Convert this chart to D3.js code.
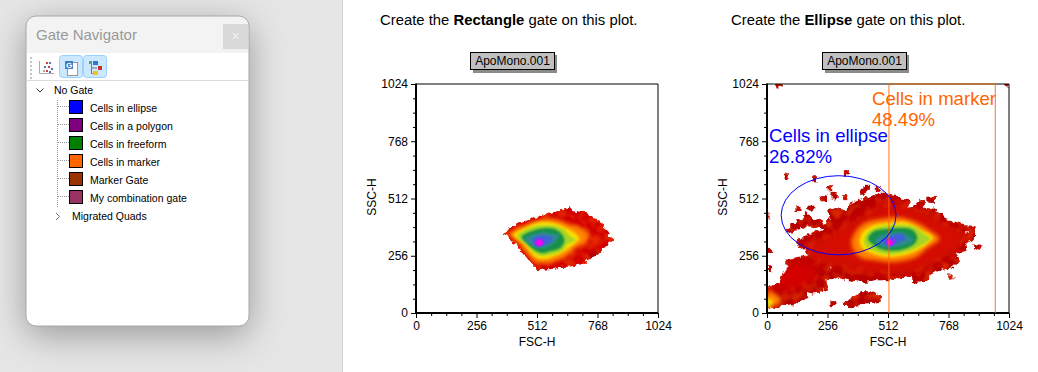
<!DOCTYPE html>
<html><head><meta charset="utf-8">
<script src="https://cdn.jsdelivr.net/npm/d3@7"></script>
<style>
html,body{margin:0;padding:0;background:#fff;overflow:hidden}
svg{display:block}
text{font-family:"Liberation Sans",Arial,sans-serif}
.axis path,.axis line{stroke:#000}
.axis text{font-family:"Liberation Sans",Arial,sans-serif;font-size:12px;fill:#000}
</style></head><body>
<svg id="c" width="1038" height="372"></svg>
<script>
// ---------- data (FSC-H, SSC-H channel values) ----------
const axisTicks = [0,256,512,768,1024];
const minorTicks = d3.range(0,1025,64).filter(v=>v%256!==0);
const xLabel = "FSC-H", yLabel = "SSC-H", fileName = "ApoMono.001";
const gateNames = ["Cells in ellipse","Cells in a polygon","Cells in freeform","Cells in marker","Marker Gate","My combination gate"];
const gateColors = ["#0000ff","#800080","#008000","#ff6600","#993300","#993366"];
const ellipseGate = {cx:303, cy:437, rx:243, ry:177};
const markerGate = [516,966];
const ellipseStat = ["Cells in ellipse","26.82%"];
const markerStat = ["Cells in marker","48.49%"];

// density levels, left plot
const leftOuter = [[368,358],[390,377],[425,396],[474,414],[517,429],[552,441],[566,454],[616,462],[644,466],[651,480],[655,462],[687,454],[722,451],[736,429],[764,422],[793,399],[802,370],[814,350],[839,329],[821,313],[800,295],[785,273],[750,247],[729,239],[708,221],[665,209],[609,206],[588,198],[545,194],[517,191],[489,221],[467,250],[432,295],[397,332]];
const leftDark = [[715,258],[757,280],[793,283],[771,258],[736,239]];
const leftSpot = [[736,332],[764,347],[785,329],[757,313]];
const leftOrange = [[390,355],[432,380],[489,405],[545,422],[602,417],[644,399],[701,380],[732,347],[718,314],[668,285],[640,255],[595,232],[531,220],[500,232],[470,262],[435,310],[405,337]];
const leftYellow = [[412,350],[460,380],[517,405],[573,405],[623,387],[672,358],[692,332],[668,307],[630,277],[588,255],[538,240],[508,247],[478,280],[450,317]];
const leftLime = [[428,343],[465,373],[517,390],[580,390],[625,373],[653,342],[676,328],[640,307],[618,278],[573,262],[531,255],[500,270],[470,303]];
const leftGreen = [[447,340],[478,362],[531,378],[582,377],[612,358],[628,325],[612,292],[568,276],[531,268],[500,284],[468,313]];
const leftTeal = [[458,332],[494,350],[538,362],[568,354],[606,350],[584,315],[554,294],[508,291],[476,310]];
const leftBlue = [[490,328],[522,346],[561,344],[578,328],[547,306],[508,303]];
const leftPurple = [[500,317],[517,335],[540,327],[540,305],[512,296]];
const leftMagenta = [[508,314],[524,328],[537,314],[524,300]];

// density levels, right plot
const rightOuter = [[0,17],[0,124],[25,124],[53,131],[67,169],[88,206],[95,243],[138,251],[173,261],[166,280],[131,303],[117,315],[124,329],[166,344],[187,355],[223,370],[244,377],[216,385],[180,392],[145,377],[124,370],[88,355],[81,370],[103,392],[131,414],[152,429],[166,447],[180,437],[202,414],[223,422],[237,395],[251,399],[265,422],[258,466],[293,474],[336,452],[350,489],[399,511],[442,523],[477,533],[515,533],[541,529],[569,511],[604,504],[597,474],[619,474],[647,511],[668,504],[668,469],[710,466],[746,437],[767,414],[802,407],[838,392],[877,389],[887,347],[869,325],[838,310],[845,273],[802,265],[816,228],[788,213],[788,206],[739,191],[682,169],[682,146],[633,139],[609,131],[611,161],[562,161],[518,146],[456,146],[414,139],[343,146],[286,161],[251,146],[258,116],[237,94],[194,87],[173,94],[166,64],[131,42],[74,35],[25,20]];
const rightIsland = [[322,49],[371,72],[399,94],[456,91],[487,72],[477,49],[414,42],[357,27],[322,27]];
const rightSpecks = [[81,611],[201,600],[336,627],[261,560],[237,511],[284,519],[284,535],[329,516],[414,551],[425,562],[405,540],[467,553],[131,463],[185,469],[279,42],[88,228],[7,280],[0,429],[11,198],[50,1020],[1014,1020],[689,504],[700,504],[883,295],[893,295],[778,161]];
const rightHoles = [[842,358],[270,200]];
const rightBright = [[166,295],[293,369],[392,429],[491,488],[646,466],[759,399],[843,354],[815,295],[730,235],[632,183],[477,176],[336,205],[195,235]];
const rightLowBright = [[25,116],[96,220],[195,213],[209,161],[96,101]];
const rightOrange = [[357,310],[378,369],[420,406],[491,421],[547,429],[632,406],[688,369],[730,332],[674,287],[632,250],[547,228],[462,235],[392,250]];
const rightYellow = [[392,317],[406,362],[448,391],[505,402],[589,406],[646,376],[702,339],[660,295],[603,265],[519,250],[448,265],[406,287]];
const rightLime = [[410,324],[432,365],[477,387],[547,394],[620,387],[662,356],[690,332],[648,300],[589,274],[519,262],[453,277],[416,302]];
const rightGreen = [[428,332],[452,365],[505,376],[561,380],[614,372],[636,339],[622,307],[570,283],[505,280],[458,299]];
const rightTeal = [[455,324],[488,350],[547,361],[592,351],[620,324],[585,306],[519,291],[474,303]];
const rightBlue = [[486,324],[517,342],[568,355],[586,332],[549,313],[510,298]];
const rightPurple = [[498,317],[517,335],[542,326],[528,299]];
const rightMagenta = [[509,317],[522,327],[533,310],[519,302]];
const cornerOrange = [[0,94],[32,86],[61,57],[25,27],[0,19]];
const cornerYellow = [[0,64],[25,54],[11,30],[0,24]];
const cornerLime = [[0,49],[11,42],[0,30]];

const heat = {dark:"#b80000",red:"#d40400",bright:"#d40a00",spot:"#ea3000",orange:"#ff8400",yellow:"#f8e000",lime:"#a6d428",green:"#159048",teal:"#2f8a90",blue:"#3f60d8",purple:"#8a30f0",magenta:"#f800f0"};
// --------------------------------------------------------

const svg = d3.select("#c");
const defs = svg.append("defs");
function addBlur(id,s){
  defs.append("filter").attr("id",id).attr("x","-60%").attr("y","-60%").attr("width","220%").attr("height","220%")
    .append("feGaussianBlur").attr("stdDeviation",s);
}
addBlur("soft",0.55);
[[ "b40",4],["b25",2.2],["b16",1.4],["b12",1],["b10",.8],["b08",.7],["b06",.5]].forEach(d=>addBlur(d[0],d[1]));
const sh = defs.append("filter").attr("id","winShadow").attr("x","-40%").attr("y","-30%").attr("width","180%").attr("height","170%");
sh.append("feDropShadow").attr("dx",0).attr("dy",9).attr("stdDeviation",18).attr("flood-color","#000").attr("flood-opacity",0.34);
// jagged population edge and mottled red body of the density map
const rough = defs.append("filter").attr("id","rough").attr("x","-5%").attr("y","-5%").attr("width","110%").attr("height","110%");
rough.append("feTurbulence").attr("type","fractalNoise").attr("baseFrequency",0.2).attr("numOctaves",2).attr("seed",4).attr("result","n");
rough.append("feDisplacementMap").attr("in","SourceGraphic").attr("in2","n").attr("scale",7).attr("xChannelSelector","R").attr("yChannelSelector","G").attr("result","d");
rough.append("feTurbulence").attr("type","fractalNoise").attr("baseFrequency",0.12).attr("numOctaves",1).attr("seed",9);
rough.append("feColorMatrix").attr("type","matrix").attr("values","0 0 0 0 .84  0 0 0 0 .03  0 0 0 0 0  2.2 0 0 0 -1.0").attr("result","m");
rough.append("feComposite").attr("in","m").attr("in2","d").attr("operator","in").attr("result","mm");
const mg = rough.append("feMerge"); mg.append("feMergeNode").attr("in","d"); mg.append("feMergeNode").attr("in","mm");
defs.append("filter").attr("id","px").append("feGaussianBlur").attr("stdDeviation",0.5);

// left pane
svg.append("rect").attr("x",0).attr("y",0).attr("width",342).attr("height",372).attr("fill","#e6e6e6");
svg.append("line").attr("x1",342.5).attr("x2",342.5).attr("y1",0).attr("y2",372).attr("stroke","#d2d2d2");

// gate navigator window
const win = svg.append("g");
win.append("rect").attr("x",26).attr("y",16).attr("width",223).attr("height",310).attr("rx",10)
  .attr("fill","#fff").attr("filter","url(#winShadow)");
win.append("path").attr("d","M26 53V26a10 10 0 0 1 10-10H239a10 10 0 0 1 10 10V53Z").attr("fill","#f3f3f3");
win.append("rect").attr("x",26).attr("y",16).attr("width",223).attr("height",310).attr("rx",10)
  .attr("fill","none").attr("stroke","#a8a8a8");
win.append("text").attr("x",36).attr("y",40).attr("font-size",15).attr("fill","#9a9a9a").text("Gate Navigator");
win.append("rect").attr("x",223).attr("y",24).attr("width",25).attr("height",25).attr("fill","#d9d9d9");
win.append("text").attr("x",235.5).attr("y",41).attr("text-anchor","middle").attr("font-size",14).attr("fill","#f2f2f2").text("×");
win.append("line").attr("x1",26).attr("x2",249).attr("y1",80.5).attr("y2",80.5).attr("stroke","#dcdcdc");
d3.range(57,78,4).forEach(y=>win.append("rect").attr("x",30).attr("y",y).attr("width",2).attr("height",2).attr("fill","#c4c4c4"));
[[59,55],[83,55]].forEach(([x,y])=>win.append("rect").attr("x",x+.5).attr("y",y+.5).attr("width",23).attr("height",22).attr("rx",3).attr("fill","#cce8ff").attr("stroke","#99d1ff"));
// toolbar icons
win.append("path").attr("d","M39.5 61V73.5H54").attr("fill","none").attr("stroke","#aaa");
[[46,62,"#d04040"],[49,62,"#5070c0"],[44,66,"#5070c0"],[48,66,"#d04040"],[51,68,"#5070c0"],[46,70,"#d04040"],[49,71,"#5070c0"],[43,70,"#aaa"]].forEach(d=>win.append("rect").attr("x",d[0]).attr("y",d[1]).attr("width",2).attr("height",2).attr("fill",d[2]));
win.append("rect").attr("x",67.5).attr("y",62.5).attr("width",10).attr("height",13).attr("fill","#fff").attr("stroke","#999");
win.append("rect").attr("x",65).attr("y",61).attr("width",8).attr("height",8).attr("fill","#3f7fc8");
win.append("text").attr("x",69).attr("y",68).attr("text-anchor","middle").attr("font-size",8).attr("font-weight","bold").attr("fill","#fff").text("G");
win.append("path").attr("d","M91.5 64V73.5H95M91.5 68H97").attr("fill","none").attr("stroke","#777");
win.append("rect").attr("x",89).attr("y",61).attr("width",3).attr("height",3).attr("fill","#5a9a8a");
win.append("rect").attr("x",93).attr("y",61).attr("width",5).attr("height",4).attr("fill","#2f78c8");
win.append("rect").attr("x",98).attr("y",66).attr("width",4).attr("height",4).attr("fill","#d02c2c");
win.append("rect").attr("x",93).attr("y",71).attr("width",5).attr("height",4).attr("fill","#f5c020");
// tree
const row = i => 108 + i*18;
win.append("text").attr("x",54).attr("y",94).attr("font-size",10.5).attr("fill","#000").text("No Gate");
win.append("path").attr("d","M36.5 88.5L40 92L43.5 88.5").attr("fill","none").attr("stroke","#333");
win.append("line").attr("x1",57.5).attr("x2",57.5).attr("y1",100).attr("y2",207).attr("stroke","#999").attr("stroke-dasharray","1 1");
const rows = win.selectAll("g.r").data(gateNames).join("g").attr("class","r");
rows.append("line").attr("x1",58).attr("x2",69).attr("y1",(d,i)=>row(i)-1.5).attr("y2",(d,i)=>row(i)-1.5).attr("stroke","#999").attr("stroke-dasharray","1 1");
rows.append("rect").attr("x",69.5).attr("y",(d,i)=>row(i)-7.5).attr("width",13).attr("height",13).attr("fill",(d,i)=>gateColors[i]).attr("stroke","#000");
rows.append("text").attr("x",90).attr("y",(d,i)=>row(i)+3.5).attr("font-size",10.5).attr("fill","#000").text(d=>d);
win.append("path").attr("d","M56 213L59.5 216.5L56 220").attr("fill","none").attr("stroke","#777");
win.append("text").attr("x",72).attr("y",219.5).attr("font-size",10.5).attr("fill","#000").text("Migrated Quads");

// plots
const plotH = [84,313];
function drawPlot(id,x0,x1,boldWord,titleX,boxX,levels,outerClip,draw){
  const x = d3.scaleLinear().domain([0,1024]).range([x0,x1]);
  const y = d3.scaleLinear().domain([0,1024]).range([plotH[1],plotH[0]]);
  const g = svg.append("g");
  const t = g.append("text").attr("x",titleX).attr("y",25).attr("font-size",14.85).attr("fill","#000");
  t.append("tspan").text("Create the ");
  t.append("tspan").attr("font-weight","bold").text(boldWord);
  t.append("tspan").text(" gate on this plot.");
  g.append("rect").attr("x",boxX+3).attr("y",55).attr("width",84).attr("height",18).attr("fill","#000").attr("opacity",.45).attr("filter","url(#soft)");
  g.append("rect").attr("x",boxX+.5).attr("y",52.5).attr("width",84).attr("height",17).attr("fill","#c0c0c0").attr("stroke","#000");
  g.append("text").attr("x",boxX+42.5).attr("y",65).attr("text-anchor","middle").attr("font-size",12).attr("fill","#000").text(fileName);

  const edge = d3.line().x(d=>x(d[0])).y(d=>y(d[1]));
  const round = d3.line().x(d=>x(d[0])).y(d=>y(d[1])).curve(d3.curveCatmullRomClosed.alpha(.5));
  defs.append("clipPath").attr("id","clip"+id).append("rect").attr("x",x0).attr("y",plotH[0]).attr("width",x1-x0).attr("height",plotH[1]-plotH[0]);
  const cp = defs.append("clipPath").attr("id","inner"+id);
  cp.append("path").attr("d",edge(outerClip)+"Z");
  const clip = g.append("g").attr("clip-path",`url(#clip${id})`).append("g").attr("filter","url(#px)");
  const base = clip.append("g").attr("filter","url(#rough)");
  levels.outer.forEach(l=>base.append("path").attr("d",edge(l.pts)+"Z").attr("fill",l.c));
  if(draw) draw(base,x,y);
  const inner = clip.append("g").attr("clip-path",`url(#inner${id})`);
  levels.inner.forEach(l=>inner.append("path").attr("d",round(l.pts)).attr("fill",l.c).attr("filter",`url(#${l.b})`));

  const ax = d3.axisBottom(x).tickValues(axisTicks).tickSize(5).tickPadding(3).tickFormat(d3.format("d"));
  const ay = d3.axisLeft(y).tickValues(axisTicks).tickSize(5).tickPadding(3).tickFormat(d3.format("d"));
  g.append("g").attr("class","axis").attr("transform",`translate(0,${plotH[1]})`).call(ax);
  g.append("g").attr("class","axis").attr("transform",`translate(${x0},0)`).call(ay);
  g.append("g").attr("class","axis").attr("transform",`translate(0,${plotH[1]})`).call(d3.axisBottom(x).tickValues(minorTicks).tickSize(3).tickFormat(""));
  g.append("g").attr("class","axis").attr("transform",`translate(${x0},0)`).call(d3.axisLeft(y).tickValues(minorTicks).tickSize(3).tickFormat(""));
  g.selectAll(".axis .domain").remove();
  g.append("path").attr("d",`M${x0} ${plotH[0]}H${x1}V${plotH[1]}`).attr("fill","none").attr("stroke","#000");
  g.append("path").attr("d",`M${x0} ${plotH[0]-.5}V${plotH[1]}H${x1}`).attr("fill","none").attr("stroke","#000").attr("stroke-width",2);
  g.append("text").attr("x",(x0+x1)/2).attr("y",346).attr("text-anchor","middle").attr("font-size",12).text(xLabel);
  g.append("text").attr("transform",`translate(${x0-40},197) rotate(-90)`).attr("text-anchor","middle").attr("font-size",12).text(yLabel);
  return {g,x,y};
}

const lv = (pts,c,b)=>({pts,c,b});
drawPlot("L",416,658,'Rectangle',380,470,{
  outer:[lv(leftOuter,heat.red),lv(leftDark,heat.dark)],
  inner:[lv(leftSpot,heat.spot,"b25"),lv(leftOrange,heat.orange,"b25"),lv(leftYellow,heat.yellow,"b16"),lv(leftLime,heat.lime,"b12"),lv(leftGreen,heat.green,"b12"),lv(leftTeal,heat.teal,"b10"),lv(leftBlue,heat.blue,"b10"),lv(leftPurple,heat.purple,"b08"),lv(leftMagenta,heat.magenta,"b06")]
},leftOuter);

const R = drawPlot("R",767,1009,'Ellipse',731,822,{
  outer:[lv(rightOuter,heat.dark),lv(rightIsland,heat.dark)],
  inner:[lv(rightLowBright,heat.red,"b40"),lv(rightBright,heat.bright,"b40"),lv(rightOrange,heat.orange,"b25"),lv(rightYellow,heat.yellow,"b16"),lv(rightLime,heat.lime,"b12"),lv(rightGreen,heat.green,"b12"),lv(rightTeal,heat.teal,"b10"),lv(rightBlue,heat.blue,"b10"),lv(rightPurple,heat.purple,"b08"),lv(rightMagenta,heat.magenta,"b06"),lv(cornerOrange,heat.orange,"b25"),lv(cornerYellow,heat.yellow,"b16"),lv(cornerLime,heat.lime,"b12")]
},rightOuter,(base,x,y)=>{
  base.selectAll("rect.s").data(rightSpecks).join("rect").attr("class","s").attr("x",d=>x(d[0])-2.5).attr("y",d=>y(d[1])-2.5).attr("width",5).attr("height",5).attr("fill",heat.dark);
  base.selectAll("rect.h").data(rightHoles).join("rect").attr("class","h").attr("x",d=>x(d[0])-1).attr("y",d=>y(d[1])-1).attr("width",2).attr("height",2).attr("fill","#fff");
});
const gm = R.g, xr = R.x, yr = R.y;
gm.append("path").attr("d",`M${xr(markerGate[0])} ${yr(0)}V${yr(1024)}H${xr(markerGate[1])}V${yr(0)}`).attr("fill","none").attr("stroke",gateColors[3]).attr("stroke-opacity",.9);
gm.append("ellipse").attr("cx",xr(ellipseGate.cx)).attr("cy",yr(ellipseGate.cy))
  .attr("rx",xr(ellipseGate.rx)-xr(0)).attr("ry",yr(0)-yr(ellipseGate.ry)).attr("fill","none").attr("stroke",gateColors[0]);
[[markerStat,872,105,gateColors[3]],[ellipseStat,769,142,gateColors[0]]].forEach(([s,px,py,c])=>{
  s.forEach((t,i)=>gm.append("text").attr("x",px).attr("y",py+i*21).attr("font-size",18.6).attr("fill",c).text(t));
});
</script>
</body></html>
